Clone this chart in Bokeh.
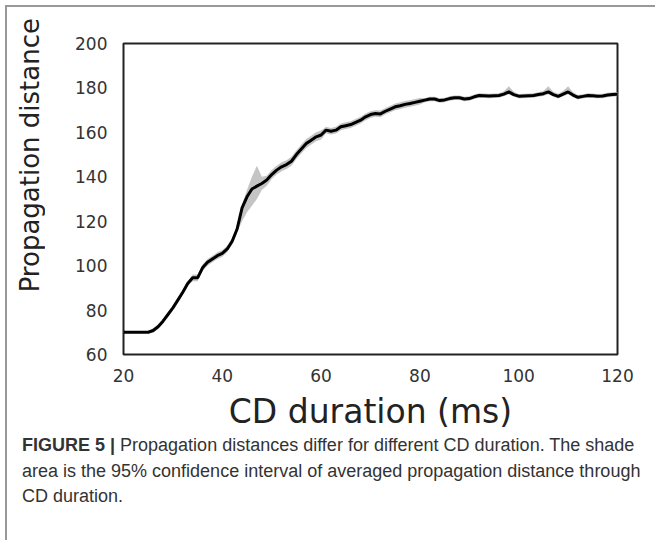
from bokeh.plotting import figure
from bokeh.models import Range1d, FixedTicker, ColumnDataSource, Div
from bokeh.layouts import column, row
from bokeh.embed import file_html
from bokeh.resources import INLINE

# ---- data ----
cd_duration = list(range(20, 121))
mean_distance = [
    70, 70, 70, 70, 70, 70, 70.8, 72.5, 75, 78,
    81, 84.5, 88, 92, 94.5, 94.5, 99, 101.5, 103, 104.5,
    105.5, 107.5, 111, 116.5, 126, 131, 134.5, 135.8, 137, 138.5,
    141, 143, 144.5, 145.5, 147, 150, 152.5, 155, 156.5, 158,
    158.8, 161, 160.5, 161, 162.5, 163, 163.5, 164.5, 165.5, 167,
    168, 168.5, 168.3, 169.5, 170.5, 171.5, 172, 172.6, 173, 173.5,
    174, 174.5, 175, 175, 174.3, 174.6, 175.2, 175.6, 175.6, 175,
    175.2, 176, 176.6, 176.5, 176.4, 176.5, 176.6, 177.2, 178.2, 177,
    176.3, 176.4, 176.5, 176.6, 177, 177.4, 178.2, 177, 176.2, 177.2,
    178.2, 176.8, 175.8, 176.2, 176.6, 176.5, 176.3, 176.4, 176.8, 177,
    177.2,
]
ci_lower = [
    69.7, 69.7, 69.7, 69.7, 69.7, 69.7, 69.8, 71.5, 74, 77,
    80, 83.5, 87, 91, 93, 93, 97.5, 100, 101.5, 103,
    104, 106, 109.5, 115, 120, 124, 127, 130, 134, 136,
    139, 141, 142.5, 143.5, 145, 148, 150.5, 153, 154.5, 156,
    156.8, 159.5, 159, 159.5, 161, 161.5, 162, 163, 164, 165.5,
    166.5, 167, 166.8, 168, 169, 170, 170.5, 171.1, 171.5, 172,
    172.5, 173.5, 174, 174, 173.3, 173.6, 174.2, 174.6, 174.6, 174,
    174.2, 175, 175.6, 175.5, 175.4, 175.5, 175.6, 176.2, 177.2, 176,
    175.3, 175.4, 175.5, 175.6, 176, 176.4, 177.2, 176, 175.2, 176.2,
    177.2, 175.8, 174.8, 175.2, 175.6, 175.5, 175.3, 175.4, 175.8, 176,
    176.2,
]
ci_upper = [
    70.3, 70.3, 70.3, 70.3, 70.3, 70.3, 71.8, 73.5, 76, 79,
    82, 85.5, 89, 93, 96, 96, 100.5, 103, 104.5, 106,
    107, 109, 112.5, 118, 127.5, 134, 140, 145, 140, 140.5,
    143, 145, 146.5, 147.5, 149, 152, 154.5, 157, 158.5, 160,
    160.8, 162.5, 162, 162.5, 164, 164.5, 165, 166, 167, 168.5,
    169.5, 170, 169.8, 171, 172, 173, 173.5, 174.1, 174.5, 175,
    175.5, 175.5, 176, 176, 175.3, 175.6, 176.2, 176.6, 176.6, 176,
    176.2, 177, 177.6, 177.5, 177.4, 177.5, 177.6, 178.5, 180.8, 178.3,
    177.3, 177.4, 177.5, 177.6, 178, 178.6, 180.8, 178.3, 177.4, 178.6,
    180.8, 178, 176.8, 177.2, 177.6, 177.5, 177.3, 177.4, 177.8, 178,
    178.2,
]
x_ticks = [20, 40, 60, 80, 100, 120]
y_ticks = [60, 80, 100, 120, 140, 160, 180, 200]

x_label = "CD duration (ms)"
y_label = "Propagation distance"
caption_bold = "FIGURE 5 |"
caption_line1 = "Propagation distances differ for different CD duration. The shade"
caption_line2 = "area is the 95% confidence interval of averaged propagation distance through"
caption_line3 = "CD duration."

OFF = 7        # outer border offset (page px)
YLAB_W = 45    # width of the y-title strip
PH = 433 - OFF
PW = 655 - OFF - YLAB_W
FL = 123 - OFF - YLAB_W
FR = 617 - OFF - YLAB_W
FT, FB = 43 - OFF, 354 - OFF

src = ColumnDataSource(dict(x=cd_duration, y=mean_distance, lo=ci_lower, hi=ci_upper))

p = figure(width=PW, height=PH, output_backend="svg", toolbar_location=None,
           x_range=Range1d(20, 120), y_range=Range1d(60, 200),
           min_border_left=FL, min_border_right=PW - FR, min_border_top=FT,
           min_border_bottom=PH - FB, margin=0)
p.background_fill_color = "white"
p.border_fill_color = "white"
p.grid.visible = False
p.outline_line_color = "#222222"
p.outline_line_width = 2

p.varea(x="x", y1="lo", y2="hi", source=src, fill_color="#c4c4c4", fill_alpha=1.0)
p.line(x="x", y="y", source=src, line_color="black", line_width=3)

for ax in (p.xaxis[0], p.yaxis[0]):
    ax.axis_line_color = None
    ax.major_tick_line_color = None
    ax.minor_tick_line_color = None
    ax.major_label_text_font = "DejaVu Sans"
    ax.major_label_text_font_size = "17px"
    ax.major_label_text_color = "#333333"
p.xaxis[0].ticker = FixedTicker(ticks=x_ticks)
p.yaxis[0].ticker = FixedTicker(ticks=y_ticks)
p.xaxis[0].major_label_standoff = 8
p.yaxis[0].major_label_standoff = 10

p.xaxis[0].axis_label = x_label
p.xaxis[0].axis_label_text_font = "DejaVu Sans"
p.xaxis[0].axis_label_text_font_size = "33px"
p.xaxis[0].axis_label_text_font_style = "normal"
p.xaxis[0].axis_label_text_color = "#222222"
p.xaxis[0].axis_label_standoff = 7

ylab_html = (
    '<div style="margin-top:11px; margin-left:10px; writing-mode:vertical-rl; '
    'transform:rotate(180deg); font-family:\'DejaVu Sans\', sans-serif; '
    'font-size:26px; line-height:26px; color:#222222; white-space:nowrap">'
    f'{y_label}</div>'
)
ylab = Div(text=ylab_html, width=YLAB_W, height=PH, margin=0,
           styles={"background": "white"})

cap_html = (
    '<div style="white-space:nowrap">'
    f'<b>{caption_bold}</b> {caption_line1}<br>{caption_line2}<br>{caption_line3}'
    '</div>'
)
cap = Div(text=cap_html, width=655 - OFF, height=540 - 433, margin=0,
          styles={"font-family": "'Liberation Sans', Arial, sans-serif",
                  "font-size": "18px", "line-height": "25.5px", "color": "#333333",
                  "padding-left": f"{22 - OFF}px"})

root = column(row(ylab, p, spacing=0, margin=0), cap, spacing=0, margin=0,
              styles={"margin-left": "5px", "margin-top": "5px",
                      "border-top": "2px solid #999999",
                      "border-left": "2px solid #999999"})

open("out.html", "w").write(file_html(root, INLINE))
